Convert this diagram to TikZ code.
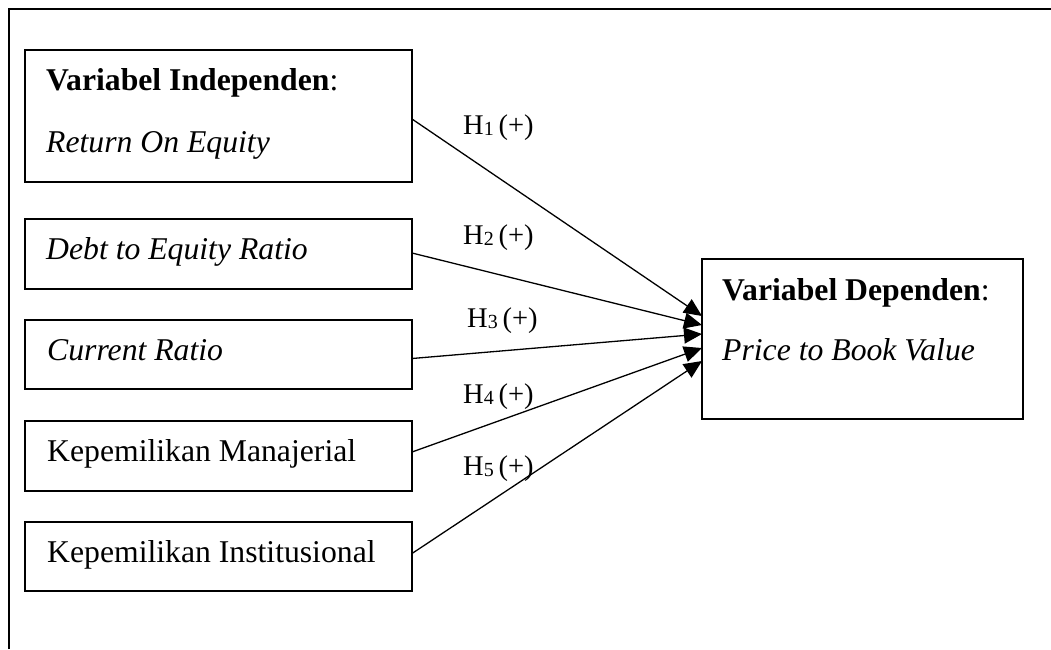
\documentclass[tikz,border=0pt]{standalone}
\usepackage{fontspec}
\setmainfont{Liberation Serif}
\usetikzlibrary{arrows.meta}
\tikzset{
  box/.style={draw, line width=1.3pt, rectangle, inner sep=0pt, outer sep=0pt, anchor=north west},
  txt/.style={anchor=base west, inner sep=0pt, font=\fontsize{31.7pt}{38pt}\selectfont},
  hyp/.style={anchor=base west, inner sep=0pt, font=\fontsize{28.5pt}{34pt}\selectfont},
  link/.style={line width=1.3pt, -{Triangle[length=18pt,width=16pt]}}
}
\newcommand{\hsub}[1]{H\raisebox{-1pt}{\fontsize{20pt}{20pt}\selectfont #1}\,(+)}
\begin{document}
\begin{tikzpicture}[x=1pt,y=-1pt]
\useasboundingbox (0,0) rectangle (1051,649);
% outer frame
\coordinate (fa) at (9,649);
\coordinate (fb) at (9,9);
\coordinate (fc) at (1051,9);
\draw[line width=2pt] (fa) -- (fb) -- (fc);
% boxes
\node[box, minimum width=387pt, minimum height=132pt] (b1) at (25,50) {};
\node[box, minimum width=387pt, minimum height=70pt] (b2) at (25,219) {};
\node[box, minimum width=387pt, minimum height=69pt] (b3) at (25,320) {};
\node[box, minimum width=387pt, minimum height=70pt] (b4) at (25,421) {};
\node[box, minimum width=387pt, minimum height=69pt] (b5) at (25,522) {};
\node[box, minimum width=321pt, minimum height=160pt] (dep) at (702,259) {};
% texts
\node[txt] (t1a) at (46,90) {\textbf{Variabel Independen}:};
\node[txt] (t1b) at (46,152) {\textit{Return On Equity}};
\node[txt] (t2) at (46,259) {\textit{Debt to Equity Ratio}};
\node[txt] (t3) at (47,360) {\textit{Current Ratio}};
\node[txt] (t4) at (47,461) {Kepemilikan Manajerial};
\node[txt] (t5) at (47,562) {Kepemilikan Institusional};
\node[txt] (td1) at (722,300) {\textbf{Variabel Dependen}:};
\node[txt] (td2) at (722,360) {\textit{Price to Book Value}};
% hypothesis labels
\node[hyp] (h1) at (463,134) {\hsub{1}};
\node[hyp] (h2) at (463,244) {\hsub{2}};
\node[hyp] (h3) at (467,327) {\hsub{3}};
\node[hyp] (h4) at (463,403) {\hsub{4}};
\node[hyp] (h5) at (463,475) {\hsub{5}};
% connectors
\draw[link] ([yshift=-3pt]b1.east) -- ([yshift=23pt]dep.west);
\draw[link] ([yshift=1pt]b2.east) -- ([yshift=14pt]dep.west);
\draw[link] ([yshift=-4pt]b3.east) -- ([yshift=5pt]dep.west);
\draw[link] ([yshift=4pt]b4.east) -- ([yshift=-9pt]dep.west);
\draw[link] ([yshift=3pt]b5.east) -- ([yshift=-22pt]dep.west);
\end{tikzpicture}
\end{document}
